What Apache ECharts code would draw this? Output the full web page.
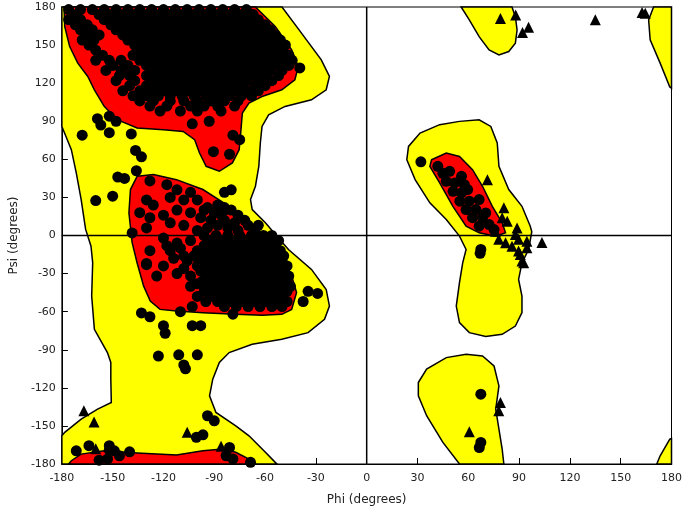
<!DOCTYPE html>
<html>
<head>
<meta charset="utf-8">
<script src="https://cdn.jsdelivr.net/npm/echarts@6/dist/echarts.min.js"></script>
<style>
html, body { margin: 0; padding: 0; background: #fff; }
#chart { width: 685px; height: 511px; }
</style>
</head>
<body>
<div id="chart"></div>
<script>
// axis ticks (degrees)
var phiTicks = [-180, -150, -120, -90, -60, -30, 0, 30, 60, 90, 120, 150, 180]
var psiTicks = [-180, -150, -120, -90, -60, -30, 0, 30, 60, 90, 120, 150, 180]

// allowed (yellow) region outlines, [phi, psi]
var allowedLeft = [[-180,180],[-50,180],[-38.5,159.4],[-26.8,138.4],[-22,125.3],[-23.9,114.8],[-32.6,106.9],[-48.2,101.7],[-57.9,95.1],[-61.8,85.9],[-62.8,72.9],[-63.7,54.5],[-65.7,38.8],[-68.6,28.3],[-67.6,20.4],[-59.8,10],[-53,-0.5],[-46.2,-11],[-32.6,-26.7],[-23.9,-42.5],[-22,-55.6],[-24.9,-66],[-34.6,-76.5],[-50.1,-81.8],[-67.6,-85.7],[-81.2,-92.2],[-87,-100],[-90.9,-113.2],[-92.8,-126.3],[-89,-139.4],[-77.3,-149.9],[-69.5,-157.8],[-59.8,-170.8],[-54,-178.7],[-53,-180],[-180,-180],[-180,-157.8],[-178.3,-155.1],[-168.6,-144.7],[-158.9,-136.8],[-150.8,-131.5],[-151.1,-113.2],[-151.1,-100],[-153.1,-92.2],[-160.8,-73.9],[-162.4,-47.7],[-161.8,-21.5],[-162.8,-8.4],[-166,5],[-168.6,28.3],[-171.5,49.3],[-174.4,67.6],[-180,85.9]]
var allowedLeftAlpha = [[54.8,89.9],[66.4,91.2],[73.3,85.9],[77.1,72.9],[78.1,54.5],[83.9,36.2],[91.7,23],[96.6,7.3],[97.5,3],[95.6,-11],[91.7,-21.5],[89.7,-34.6],[91.7,-47.7],[91.7,-60.8],[87.8,-71.3],[80,-77.8],[70.3,-79.6],[60.6,-76.5],[54.8,-68.6],[52.9,-55.6],[54.8,-37.2],[56.7,-21.5],[58.7,-11],[54.8,-0.5],[47,12.6],[37.3,25.7],[28.6,44],[23.7,59.7],[24.7,70.2],[31.5,80.7],[43.1,87.3]]
var allowedTopMid = [[55.8,180],[60.6,169.8],[66.4,156.7],[72.3,146.2],[78.1,142.3],[83.9,144.9],[87.8,151.5],[88.8,161.9],[87.8,172.4],[85.8,180]]
var allowedBottomMid = [[30.5,-115.8],[35.4,-105.3],[47,-96.2],[58.7,-93.6],[68.4,-94.9],[75.2,-102.8],[78.1,-118.5],[76.2,-136.8],[78.1,-152.5],[80,-168.2],[81,-180],[54.8,-180],[45,-163],[35.4,-142],[30.5,-126.3]]
var allowedTopRight = [[169.4,180],[166.5,169.8],[167.4,154.1],[173.3,135.8],[179,117],[180,116],[180,180]]
var allowedBottomRight = [[171.3,-180],[173.3,-173.5],[179,-160.4],[180,-160],[180,-180]]

// favoured (red) region outlines
var favouredBeta = [[-178.7,180],[-65.7,180],[-54,164.6],[-44.3,146.2],[-40.4,133.1],[-42.4,122.6],[-50.1,114.8],[-61.8,109.5],[-69.5,104.3],[-73.4,96.5],[-74.4,80.7],[-75.3,67.6],[-79.3,57.2],[-87,50.6],[-94.8,54.5],[-98.7,65],[-101.6,75.5],[-108.4,82],[-120,83.3],[-135.6,84.7],[-147.3,91.2],[-155,101.7],[-160.8,114.8],[-164.7,125.3],[-170.6,135.8],[-175.4,148.8],[-178.3,164.6]]
var favouredBetaWrap = [[-176,-180],[-174.4,-177.4],[-168.6,-172.2],[-155,-169.6],[-135.6,-171.4],[-112.3,-173],[-96.7,-169.6],[-85.1,-168.2],[-77.3,-170.8],[-69.5,-176.1],[-65.7,-180]]
var favouredAlpha = [[-135.6,46.6],[-125.9,48],[-112.3,44],[-96.7,36.2],[-81.2,23],[-67.6,7.3],[-59.8,-0.5],[-50.1,-16.3],[-44.3,-32],[-41.4,-45],[-44.3,-58.2],[-50.1,-62.1],[-61.8,-62.9],[-77.3,-62.1],[-96.7,-60.8],[-112.3,-59.5],[-122,-58.2],[-127.8,-51.7],[-131.7,-39.9],[-135.6,-21.5],[-138.5,-5.7],[-140.4,17.8],[-139.5,36.2]]
var favouredLeftAlpha = [[38.3,59.7],[47,65],[54.8,62.3],[62.5,51.9],[68.4,38.8],[74.2,23],[80,10],[82,2.1],[76.2,-0.5],[66.4,2.1],[58.7,7.3],[50.9,23],[43.1,41.4],[37.3,54.5]]

// residues (non-glycine), [phi, psi]
var betaResidues = [
  [-176,178],[-169,178],[-162,178],[-155,178],[-148,178],[-141,178],[-134,178],[-127,178],[-120,178],[-113,178],[-106,178],[-99,178],[-92,178],[-85,178],[-78,178],[-71,178],
  [-172,174],[-158,174],[-151,174],[-144,174],[-137,174],[-130,174],[-123,174],[-116,174],[-109,174],[-102,174],[-95,174],[-88,174],[-81,174],[-74,174],[-67,174],
  [-176,170],[-169,170],[-155,170],[-148,170],[-141,170],[-134,170],[-127,170],[-120,170],[-113,170],[-106,170],[-99,170],[-92,170],[-85,170],[-78,170],[-71,170],[-64,170],
  [-172,166],[-165,166],[-151,166],[-144,166],[-137,166],[-130,166],[-123,166],[-116,166],[-109,166],[-102,166],[-95,166],[-88,166],[-81,166],[-74,166],[-67,166],[-60,166],
  [-169,162],[-162,162],[-148,162],[-141,162],[-134,162],[-127,162],[-120,162],[-113,162],[-106,162],[-99,162],[-92,162],[-85,162],[-78,162],[-71,162],[-64,162],[-57,162],
  [-165,158],[-158,158],[-144,158],[-137,158],[-130,158],[-123,158],[-116,158],[-109,158],[-102,158],[-95,158],[-88,158],[-81,158],[-74,158],[-67,158],[-60,158],[-54,158],
  [-168,154],[-161,154],[-141,154],[-134,154],[-127,154],[-120,154],[-113,154],[-106,154],[-99,154],[-92,154],[-85,154],[-78,154],[-71,154],[-64,154],[-57,154],[-51,154],
  [-164,150],[-137,150],[-130,150],[-123,150],[-116,150],[-109,150],[-102,150],[-95,150],[-88,150],[-81,150],[-74,150],[-67,150],[-60,150],[-53,150],[-48,150],
  [-160,146],[-134,146],[-127,146],[-120,146],[-113,146],[-106,146],[-99,146],[-92,146],[-85,146],[-78,146],[-71,146],[-64,146],[-57,146],[-50,146],
  [-156,142],[-138,142],[-130,142],[-123,142],[-116,142],[-109,142],[-102,142],[-95,142],[-88,142],[-81,142],[-74,142],[-67,142],[-60,142],[-53,142],[-46,142],
  [-160,138],[-152,138],[-145,138],[-134,138],[-127,138],[-120,138],[-113,138],[-106,138],[-99,138],[-92,138],[-85,138],[-78,138],[-71,138],[-64,138],[-57,138],[-50,138],[-44,138],
  [-150,134],[-141,134],[-130,134],[-123,134],[-116,134],[-109,134],[-102,134],[-95,134],[-88,134],[-81,134],[-74,134],[-67,134],[-60,134],[-53,134],[-46,134],
  [-154,130],[-145,130],[-137,130],[-127,130],[-120,130],[-113,130],[-106,130],[-99,130],[-92,130],[-85,130],[-78,130],[-71,130],[-64,130],[-57,130],[-50,130],
  [-146,126],[-140,126],[-130,126],[-123,126],[-116,126],[-109,126],[-102,126],[-95,126],[-88,126],[-81,126],[-74,126],[-67,126],[-60,126],[-52,126],
  [-148,122],[-137,122],[-127,122],[-120,122],[-113,122],[-106,122],[-99,122],[-92,122],[-85,122],[-78,122],[-71,122],[-64,122],[-56,122],
  [-140,118],[-130,118],[-123,118],[-116,118],[-109,118],[-102,118],[-95,118],[-88,118],[-81,118],[-74,118],[-66,118],[-60,118],
  [-144,114],[-134,114],[-127,114],[-120,114],[-113,114],[-106,114],[-99,114],[-92,114],[-85,114],[-78,114],[-70,114],[-64,114],
  [-138,110],[-130,110],[-123,110],[-116,110],[-109,110],[-102,110],[-95,110],[-88,110],[-81,110],[-74,110],[-68,110],
  [-134,106],[-126,106],[-116,106],[-108,106],[-100,106],[-92,106],[-84,106],[-76,106],
  [-128,102],[-118,102],[-104,102],[-96,102],[-88,102],[-78,102],
  [-122,98],[-110,98],[-100,98],[-86,98]
]
var alphaResidues = [
  [-118,40],[-112,36],[-104,34],[-128,43],[-130,28],[-126,24],[-116,30],[-108,28],[-100,28],[-94,22],[-84,22],
  [-134,18],[-120,16],[-112,20],[-104,18],[-98,14],[-92,12],[-86,16],[-76,16],[-128,14],
  [-130,6],[-116,10],[-108,8],[-100,4],[-94,6],[-88,8],[-82,6],[-76,4],[-70,8],[-64,8],
  [-90,18],[-84,12],[-78,10],[-72,12],[-66,4],[-80,20],[-88,24],[-96,20],
  [-120,-2],[-112,-6],[-104,-4],[-128,-12],[-116,-12],[-108,-16],[-130,-22],[-120,-24],[-112,-30],[-124,-32],[-104,-40],[-100,-48],[-106,-20],
  [-118,-8],[-110,-10],[-102,-16],[-114,-18],[-108,-26],[-100,-24],[-104,-32],[-100,-38],
  [-96,0],[-89,0],[-82,0],[-75,0],[-68,0],[-61,0],[-56,0],
  [-93,-4],[-86,-4],[-79,-4],[-72,-4],[-65,-4],[-58,-4],[-52,-4],
  [-96,-8],[-89,-8],[-82,-8],[-75,-8],[-68,-8],[-61,-8],[-54,-8],
  [-100,-12],[-93,-12],[-86,-12],[-79,-12],[-72,-12],[-65,-12],[-58,-12],[-51,-12],
  [-96,-16],[-89,-16],[-82,-16],[-75,-16],[-68,-16],[-61,-16],[-54,-16],[-49,-16],
  [-99,-20],[-92,-20],[-85,-20],[-78,-20],[-71,-20],[-64,-20],[-57,-20],[-50,-20],
  [-95,-24],[-88,-24],[-81,-24],[-74,-24],[-67,-24],[-60,-24],[-53,-24],[-47,-24],
  [-98,-28],[-91,-28],[-84,-28],[-77,-28],[-70,-28],[-63,-28],[-56,-28],[-49,-28],
  [-94,-32],[-87,-32],[-80,-32],[-73,-32],[-66,-32],[-59,-32],[-52,-32],[-46,-32],
  [-97,-36],[-90,-36],[-83,-36],[-76,-36],[-69,-36],[-62,-36],[-55,-36],[-48,-36],
  [-93,-40],[-86,-40],[-79,-40],[-72,-40],[-65,-40],[-58,-40],[-51,-40],[-45,-40],
  [-96,-44],[-89,-44],[-82,-44],[-75,-44],[-68,-44],[-61,-44],[-54,-44],[-47,-44],
  [-92,-48],[-85,-48],[-78,-48],[-71,-48],[-64,-48],[-57,-48],[-50,-48],
  [-95,-52],[-88,-52],[-81,-52],[-74,-52],[-67,-52],[-60,-52],[-53,-52],[-47,-52],
  [-84,-56],[-77,-56],[-70,-56],[-63,-56],[-56,-56],[-50,-56]
]
var otherResidues = [
  [-159,92],[-157,87],[-152,94],[-148,90],[-168,79],[-152,81],[-139,80],[-136.5,67],[-133,62],[-136,51],[-147,46],[-143,45],
  [-160,27.5],[-150,31],[-103,88],[-93,90],[-90.5,66],[-81,64],[-79,79],[-75,75.5],[-39.5,132],[-84,34],[-80,36],[-84,20],
  [-133,-61],[-128,-64],[-120,-71],[-119,-77],[-123,-95],[-111,-94],[-100,-94],[-108,-102],[-107,-105],[-103,-71],[-98,-71],
  [-110,-60],[-103,-56],[-79,-62],[-37.5,-52],[-34.6,-44],[-29,-45.6],[-56,-10],[-138.5,2],[-130,-23],
  [-94,-142],[-90,-146],[-100.6,-159],[-96.7,-157],[-171.5,-169.6],[-164,-165.6],[-158,-177],[-153,-176],[-152,-165.6],
  [-149,-169.6],[-146,-173.5],[-140,-170.4],[-152,-169],[-81,-167],[-83,-173.5],[-79,-176],[-68.6,-178.7],
  [32,58],[67.4,-11],[67,-14],[67.4,-125],[67.4,-163],[66.5,-167]
]
var leftHelixResidues = [
  [42,54.5],[45,49],[49,50.6],[47,42.7],[52,41.4],[56,46.6],[51,34.8],[56,33.6],[59.6,36.2],[55,27],[60.6,27],
  [58.7,20.4],[64.5,20.4],[62.5,14],[68.4,14],[66.4,7.3],[72.3,8.6],[75.2,4.7],[57.7,40],[66.4,28.3],[70.3,17.8]
]
// glycine residues
var glycine = [
  [-167,-138],[-161,-147],[-106,-155],[-86,-166],[-160,-168],
  [71.3,44],[81,21.8],[80,13.9],[83,11.3],[88.8,6],[87.8,0.8],[78,-3],[82,-5.7],[85.8,-8.4],[89.7,-3],[94.6,-4.5],
  [94.6,-9.7],[90.7,-15],[92.7,-21.5],[103.5,-5.5],[76,3.4],[89.7,-12.3],[91.7,-20],
  [79,171],[88,173.7],[95.6,164],[92,160],[135,170],[162.6,175.6],[164.5,175],
  [79,-131.5],[78,-138],[60.6,-154.6]
]

var YELLOW = '#ffff00'
var RED = '#ff0000'
var regions = [
  { pts: allowedLeft, fill: YELLOW },
  { pts: allowedLeftAlpha, fill: YELLOW },
  { pts: allowedTopMid, fill: YELLOW },
  { pts: allowedBottomMid, fill: YELLOW },
  { pts: allowedTopRight, fill: YELLOW },
  { pts: allowedBottomRight, fill: YELLOW },
  { pts: favouredBeta, fill: RED },
  { pts: favouredBetaWrap, fill: RED },
  { pts: favouredAlpha, fill: RED },
  { pts: favouredLeftAlpha, fill: RED }
]

var myChart = echarts.init(document.getElementById('chart'))
var labelFont = { fontFamily: 'DejaVu Sans', fontSize: 11, color: '#222' }

function axisOpt(ticks, name) {
  return {
    type: 'value',
    min: ticks[0],
    max: ticks[ticks.length - 1],
    interval: ticks[1] - ticks[0],
    name: name,
    nameLocation: 'middle',
    nameTextStyle: { fontFamily: 'DejaVu Sans', fontSize: 12, color: '#222' },
    axisLine: { onZero: false, lineStyle: { color: '#000', width: 1 } },
    axisTick: { inside: true, length: 6, lineStyle: { color: '#000' } },
    axisLabel: Object.assign({ showMinLabel: true, showMaxLabel: true }, labelFont),
    splitLine: { show: false }
  }
}

var xAx = axisOpt(phiTicks, 'Phi (degrees)')
xAx.nameGap = 30
xAx.axisLabel.margin = 9
var yAx = axisOpt(psiTicks, 'Psi (degrees)')
yAx.nameGap = 40
yAx.axisLabel.margin = 6

var markerStyle = { color: '#000', opacity: 1 }

var option = {
  animation: false,
  backgroundColor: '#fff',
  grid: { left: 57, right: 10, top: 7, bottom: 46, show: true, borderColor: '#000', borderWidth: 1 },
  xAxis: xAx,
  yAxis: yAx,
  series: [
    {
      type: 'custom',
      silent: true,
      z: 1,
      data: regions.map(function (r, i) { return [0, 0, i] }),
      renderItem: function (params, api) {
        var r = regions[params.dataIndex]
        return {
          type: 'polygon',
          shape: { points: r.pts.map(function (p) { return api.coord(p) }) },
          style: { fill: r.fill, stroke: '#000', lineWidth: 1.5 }
        }
      }
    },
    {
      type: 'line', silent: true, z: 2, symbol: 'none',
      data: [[phiTicks[0], 0], [phiTicks[phiTicks.length - 1], 0]],
      lineStyle: { color: '#000', width: 1.5 }
    },
    {
      type: 'line', silent: true, z: 2, symbol: 'none',
      data: [[0, psiTicks[0]], [0, psiTicks[psiTicks.length - 1]]],
      lineStyle: { color: '#000', width: 1.5 }
    },
    {
      type: 'scatter', z: 3, symbol: 'circle', symbolSize: 11,
      itemStyle: markerStyle,
      data: betaResidues.concat(alphaResidues, otherResidues, leftHelixResidues)
    },
    {
      type: 'scatter', z: 3, symbol: 'triangle', symbolSize: 11,
      itemStyle: markerStyle,
      data: glycine
    }
  ]
}
myChart.setOption(option)
</script>
</body>
</html>
